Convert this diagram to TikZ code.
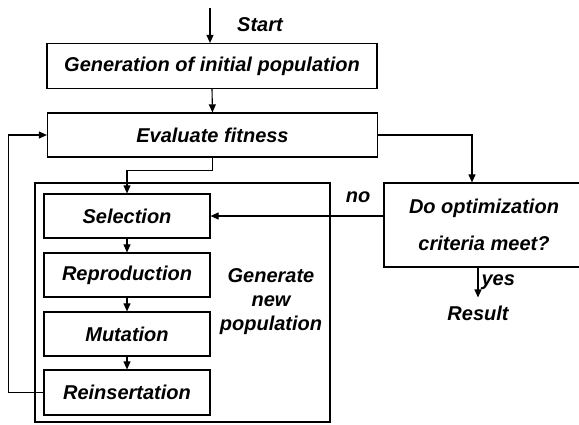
\documentclass[tikz,border=0pt]{standalone}
\usepackage{fontspec}
\setmainfont{Liberation Sans}
\usetikzlibrary{arrows.meta}
\tikzset{
  stagebox/.style={draw, line width=1.2pt, minimum width=330pt, minimum height=45pt, inner sep=0pt},
  opbox/.style={draw, line width=1.2pt, minimum width=166pt, minimum height=44pt, inner sep=0pt},
  flow/.style={line width=1.1pt, -{Triangle[length=8pt,width=7pt]}},
  lbl/.style={inner sep=0pt}
}
\begin{document}
\begin{tikzpicture}[x=1pt, y=-1pt, font=\fontsize{20}{24}\selectfont\bfseries\itshape]
  \clip (0,0) rectangle (579,424); % Page frame

  % Main stages
  \coordinate (begin) at (210,8);
  \node[lbl] (start) at (260,25) {Start};
  \node[stagebox] (gen) at (212,66) {Generation of initial population};
  \node[stagebox, minimum height=44pt] (eval) at (212.5,135) {Evaluate fitness};

  % Group of genetic operators
  \node[draw, line width=1.2pt, minimum width=295pt, minimum height=239pt, inner sep=0pt] (grp) at (182.5,302.5) {};
  \node[opbox] (sel) at (127,216) {Selection};
  \node[opbox] (rep) at (127,275) {Reproduction};
  \node[opbox] (mut) at (127,334) {Mutation};
  \node[opbox, minimum height=45pt] (reins) at (127,392.5) {Reinsertation};
  \node[lbl, align=center] (newpop) at (271,302) {Generate\\new\\population};

  % Termination test
  \node[stagebox, minimum width=200pt, minimum height=84pt, align=center,
    font=\fontsize{20}{37}\selectfont\bfseries\itshape] (crit) at (484,225) {Do optimization\\criteria meet?};
  \node[lbl, inner ysep=8pt] (result) at (478,313) {Result};
  \node[lbl] (no) at (358,197) {no};

  % Connectors
  \draw[flow] (begin) -- (begin |- gen.north);
  \draw[flow] (gen.south) -- (eval.north);
  \draw[flow] (eval.south) -- ++(0,13) -| (sel.north);
  \draw[flow] (eval.east) -| ([xshift=-12pt]crit.north);
  \draw[flow] (crit.west |- sel.east) -- (sel.east); % no
  \draw[flow] (crit.south -| result) -- (result.north)
    node[midway, right, lbl, xshift=3pt]{yes};
  \foreach \A/\B in {sel/rep, rep/mut, mut/reins} {
    \draw[flow] (\A.south) -- (\B.north);
  }
  \draw[flow] (reins.west) -- ++(-35,0) |- (eval.west); % Loop back

\end{tikzpicture}
\end{document}
